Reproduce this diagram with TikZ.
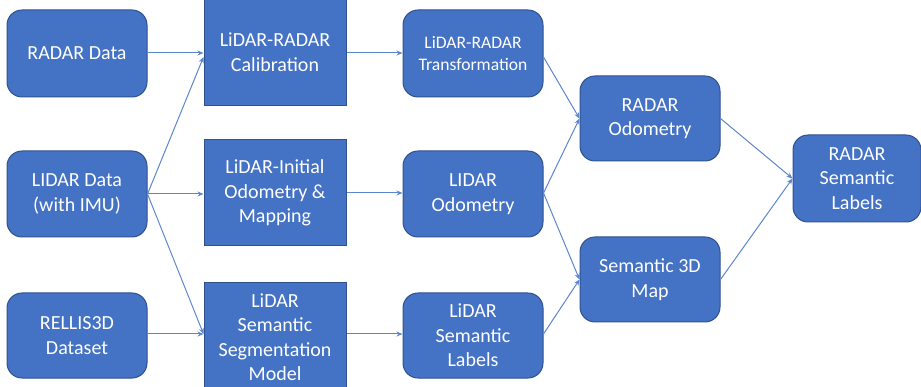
\documentclass[tikz,border=0pt]{standalone}
\usepackage{fontspec}
\setmainfont{Carlito}
\usetikzlibrary{arrows.meta}
\definecolor{boxfill}{HTML}{4472C4}
\definecolor{boxline}{HTML}{2F528F}
\definecolor{arrowcol}{HTML}{5B85D0}
\tikzset{
  rbox/.style={draw=boxline, fill=boxfill, line width=1pt, rounded corners=15pt,
    text=white, align=center, font=\fontsize{20}{24.5}\selectfont, inner sep=0pt},
  sbox/.style={draw=boxline, fill=boxfill, line width=1pt,
    text=white, align=center, font=\fontsize{20}{24.5}\selectfont, inner sep=0pt},
  conn/.style={draw=arrowcol, line width=1pt, -{Stealth[length=6pt,width=5pt]}}
}
\begin{document}
\begin{tikzpicture}[x=1pt,y=-1pt]
\useasboundingbox (0,0) rectangle (921,387);
\begin{scope}
\clip (0,0) rectangle (921,387);
% column 1
\node[rbox, minimum width=140pt, minimum height=87pt] (radar) at (77,53.5) {RADAR Data};
\node[rbox, minimum width=140pt, minimum height=86pt] (lidar) at (77,194) {LIDAR Data\\(with IMU)};
\node[rbox, minimum width=140pt, minimum height=85pt] (rellis) at (77,335.5) {RELLIS3D\\Dataset};
% column 2
\node[sbox, minimum width=142pt, minimum height=108pt] (calib) at (275,52) {LiDAR-RADAR\\Calibration};
\node[sbox, minimum width=142pt, minimum height=106pt] (init) at (275,193) {LiDAR-Initial\\Odometry \&\\Mapping};
\node[sbox, minimum width=142pt, minimum height=108pt] (seg) at (275,337) {LiDAR\\Semantic\\Segmentation\\Model};
% column 3
\node[rbox, minimum width=140pt, minimum height=87pt, font=\fontsize{17.6}{22}\selectfont] (trans) at (473,53.5) {LiDAR-RADAR\\Transformation};
\node[rbox, minimum width=140pt, minimum height=86pt] (lodo) at (473,194) {LIDAR\\Odometry};
\node[rbox, minimum width=140pt, minimum height=85pt] (llab) at (473,335.5) {LiDAR\\Semantic\\Labels};
% column 4
\node[rbox, minimum width=140pt, minimum height=85pt] (rodo) at (650,118.5) {RADAR\\Odometry};
\node[rbox, minimum width=140pt, minimum height=85pt] (sem3d) at (650,279.5) {Semantic 3D\\Map};
% column 5
\node[rbox, minimum width=128pt, minimum height=87pt] (rsl) at (857,178.5) {RADAR\\Semantic\\Labels};
\end{scope}
% connectors
\draw[conn] (radar.east |- 0,53) -- (calib.west |- 0,53);
\draw[conn] (lidar.east) -- (calib.west |- 0,57);
\draw[conn] (lidar.east) -- (init.west |- lidar.east);
\draw[conn] (lidar.east) -- (seg.west |- 0,334);
\draw[conn] (rellis.east |- 0,334) -- (seg.west |- 0,334);
\draw[conn] (calib.east |- 0,53) -- (trans.west |- 0,53);
\draw[conn] (init.east |- 0,193) -- (lodo.west |- 0,193);
\draw[conn] (seg.east |- 0,334) -- (llab.west |- 0,334);
\draw[conn] (trans.east |- 0,57) -- (rodo.west);
\draw[conn] (lodo.east |- 0,193) -- (rodo.west);
\draw[conn] (lodo.east |- 0,193) -- (sem3d.west);
\draw[conn] (llab.east |- 0,334) -- (sem3d.west);
\draw[conn] (rodo.east) -- (rsl.west);
\draw[conn] (sem3d.east) -- (rsl.west);
\end{tikzpicture}
\end{document}
